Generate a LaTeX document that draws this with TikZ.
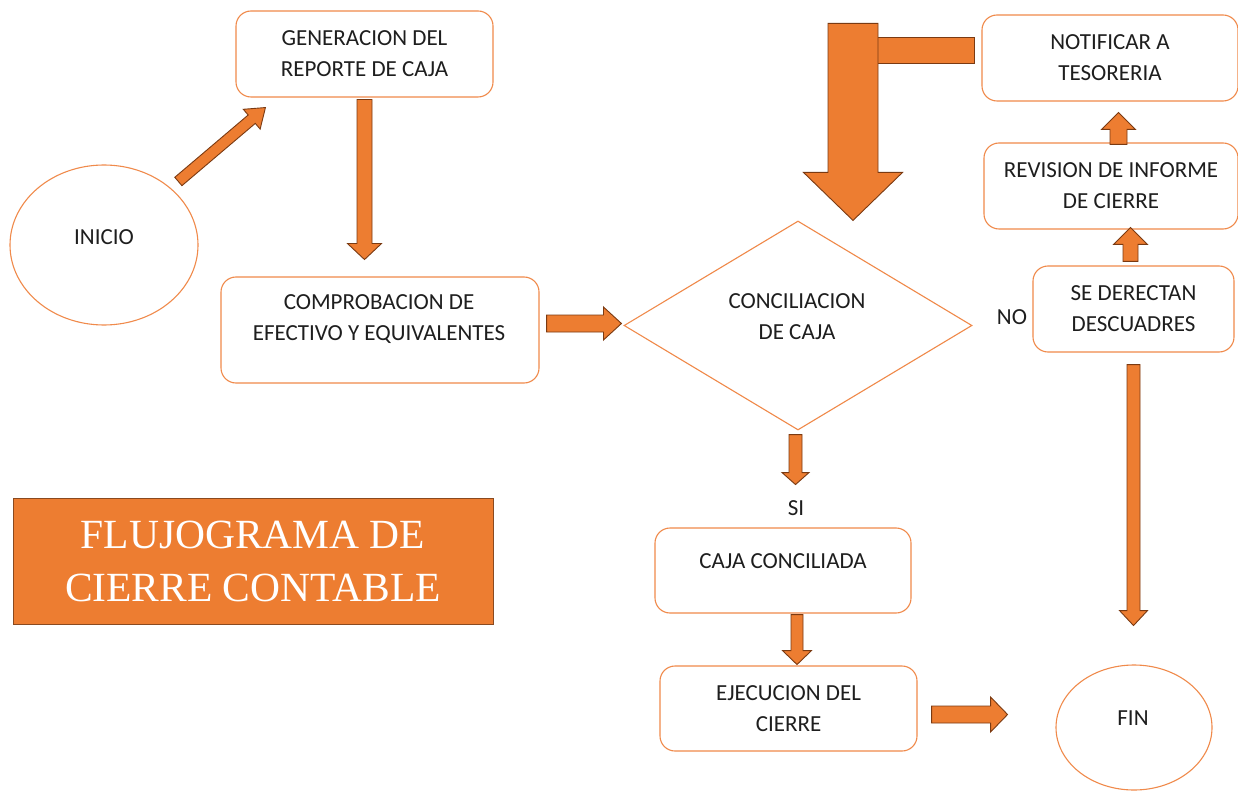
\documentclass[tikz,border=0pt]{standalone}
\usepackage{fontspec}
\setmainfont{Carlito}
\newfontfamily\titlefont{Liberation Serif}
\usetikzlibrary{shapes.geometric,calc}
\definecolor{orng}{HTML}{ED7D31}
\definecolor{brn}{HTML}{7A3A12}
\definecolor{boxline}{HTML}{F08A4B}
\definecolor{titleline}{HTML}{8A4A20}
\definecolor{txtc}{HTML}{1E1E1E}
\tikzset{
  box/.style={draw=boxline, line width=1.1pt, rounded corners=15pt, fill=white, inner sep=0pt,
    font=\fontsize{23}{31}\selectfont, align=center, text=txtc},
  ell/.style={ellipse, draw=boxline, line width=1.1pt, fill=white, inner sep=0pt},
  txt/.style={font=\fontsize{23}{31}\selectfont, align=center, text=txtc, inner sep=0pt},
  titlebox/.style={draw=titleline, line width=1pt, fill=orng, inner sep=0pt, text=white,
    font=\titlefont\fontsize{41.5}{53}\selectfont, align=center},
  blockarr/.style={fill=orng, draw=brn, line width=0.9pt, line join=miter}
}
% block arrow: #1 from, #2 tip, #3 shaft half width, #4 head half width, #5 head length
\newcommand\barrow[5]{%
  \path[blockarr] let \p1=(#1), \p2=(#2), \n1={atan2(\y2-\y1,\x2-\x1)},
    \p3=($(\p2)+({\n1+180}:#5pt)$) in
    ($(\p1)+({\n1+90}:#3pt)$) -- ($(\p3)+({\n1+90}:#3pt)$) -- ($(\p3)+({\n1+90}:#4pt)$)
    -- (\p2) -- ($(\p3)+({\n1-90}:#4pt)$) -- ($(\p3)+({\n1-90}:#3pt)$)
    -- ($(\p1)+({\n1-90}:#3pt)$) -- cycle;}
\begin{document}
\begin{tikzpicture}[x=1pt,y=-1pt]
\useasboundingbox[fill=white] (0,0) rectangle (1238,791);

% nodes
\node[ell, minimum width=188pt, minimum height=160pt] (ini) at (104,245) {};
\node[txt] (ini-t) at (104,237) {INICIO};
\node[box, minimum width=257pt, minimum height=86pt] (gen) at (364.5,54) {GENERACION DEL\\REPORTE DE CAJA};
\node[box, minimum width=318pt, minimum height=106pt] (comp) at (380,330) {};
\node[txt] (comp-t) at (379,319) {COMPROBACION DE\\EFECTIVO Y EQUIVALENTES};
\node[diamond, draw=boxline, line width=1.1pt, fill=white, inner sep=0pt,
      minimum width=348pt, minimum height=209pt] (dia) at (798,325.5) {};
\node[txt] (dia-t) at (797,317) {CONCILIACION\\DE CAJA};
\node[box, minimum width=256pt, minimum height=86pt] (notif) at (1110,58) {NOTIFICAR A\\TESORERIA};
\node[box, minimum width=254pt, minimum height=86pt] (rev) at (1111,186) {REVISION DE INFORME\\DE CIERRE};
\node[box, minimum width=201pt, minimum height=86pt] (se) at (1133.5,309) {SE DERECTAN\\DESCUADRES};
\node[txt] (no) at (1012,317) {NO};
\node[txt] (si) at (796,508) {SI};
\node[box, minimum width=256pt, minimum height=85pt] (caja) at (783,570.5) {};
\node[txt] (caja-t) at (783,561) {CAJA CONCILIADA};
\node[box, minimum width=257pt, minimum height=85pt] (ejec) at (788.5,708.5) {EJECUCION DEL\\CIERRE};
\node[ell, minimum width=156pt, minimum height=125pt] (fin) at (1134,727.5) {};
\node[txt] (fin-t) at (1133,718) {FIN};
\node[titlebox, minimum width=480pt, minimum height=126pt] (title) at (253,561) {FLUJOGRAMA DE\\CIERRE CONTABLE};

% connectors (block arrows)
\coordinate (a1s) at ($(ini.40)+(7,-7)$);
\coordinate (a1e) at ($(gen.south west)+(30,10)$);
\barrow{a1s}{a1e}{5.5}{13}{18}

\coordinate (a2s) at ($(gen.south)+(0,2)$);
\coordinate (a2e) at ($(gen.south)+(0,162)$);
\barrow{a2s}{a2e}{7.5}{17}{16}

\coordinate (a3s) at ($(comp.east)+(7,-6.5)$);
\coordinate (a3e) at ($(dia.west)+(-2,-2)$);
\barrow{a3s}{a3e}{8.5}{16.5}{18}

\coordinate (a4s) at ($(dia.south)+(-2.5,4)$);
\coordinate (a4e) at ($(dia.south)+(-2.5,54)$);
\barrow{a4s}{a4e}{6.5}{13.5}{12}

\coordinate (a5s) at ($(caja.south)+(14,1)$);
\coordinate (a5e) at ($(caja.south)+(14,51)$);
\barrow{a5s}{a5e}{6}{14.5}{14}

\coordinate (a6s) at ($(ejec.east)+(14,6)$);
\coordinate (a6e) at ($(ejec.east)+(90,6)$);
\barrow{a6s}{a6e}{8.5}{17.5}{17}

\coordinate (a7s) at ($(se.south)+(0,12)$);
\coordinate (a7e) at ($(se.south)+(0,273)$);
\barrow{a7s}{a7e}{6.5}{14}{15}

\coordinate (a8s) at ($(se.north)+(-3,-4)$);
\coordinate (a8e) at ($(se.north)+(-3,-38)$);
\barrow{a8s}{a8e}{7.5}{17}{17}

\coordinate (a9s) at ($(rev.north)+(7.5,2)$);
\coordinate (a9e) at ($(rev.north)+(7.5,-30)$);
\barrow{a9s}{a9e}{8.5}{17}{17}

% big L-shaped arrow from NOTIFICAR to the decision
\path[blockarr] ($(notif.west)+(-104,-21)$) rectangle ($(notif.west)+(-7,5)$);
\coordinate (a10s) at ($(dia.north)+(55,-197)$);
\coordinate (a10e) at ($(dia.north)+(55,0)$);
\barrow{a10s}{a10e}{25}{49.5}{48}
\end{tikzpicture}
\end{document}
